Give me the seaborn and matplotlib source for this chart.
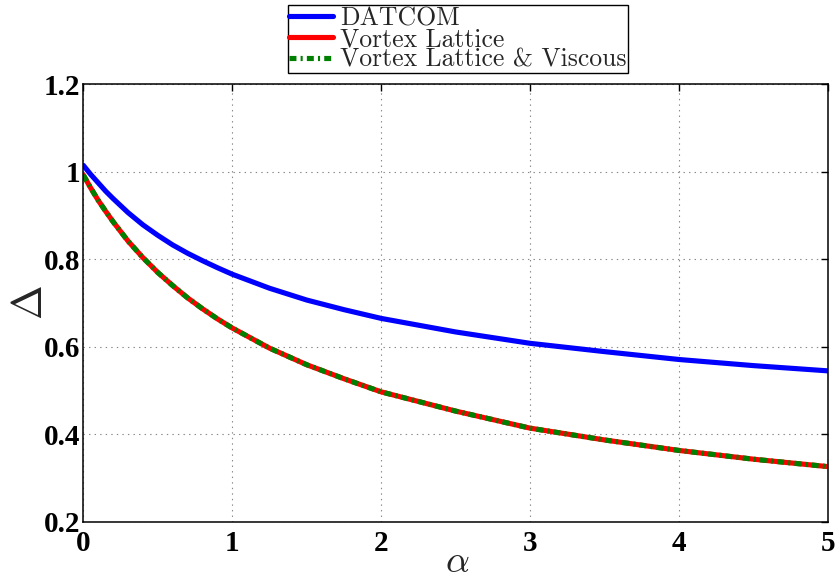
import matplotlib
matplotlib.use("Agg")
import matplotlib.pyplot as plt
import seaborn as sns
import pandas as pd

# ---- data ----
alpha = [0.0, 0.05, 0.1, 0.15, 0.2, 0.3, 0.4, 0.5, 0.6, 0.7, 0.8, 0.9, 1.0, 1.25, 1.5, 1.75,
         2.0, 2.5, 3.0, 3.5, 4.0, 4.5, 5.0]
datcom = [1.015, 0.994, 0.975, 0.956, 0.939, 0.907, 0.879, 0.855, 0.833, 0.814, 0.797, 0.781, 0.766,
          0.734, 0.707, 0.685, 0.665, 0.634, 0.608, 0.589, 0.571, 0.557, 0.545]
vortex = [0.993, 0.963, 0.935, 0.910, 0.886, 0.842, 0.804, 0.770, 0.740, 0.712, 0.687, 0.664, 0.643,
          0.597, 0.559, 0.527, 0.497, 0.453, 0.414, 0.387, 0.363, 0.343, 0.326]
vortex_visc = [0.993, 0.963, 0.935, 0.910, 0.886, 0.842, 0.804, 0.770, 0.740, 0.712, 0.687, 0.664, 0.643,
               0.597, 0.559, 0.527, 0.497, 0.453, 0.414, 0.387, 0.363, 0.343, 0.326]
labels = ["DATCOM", "Vortex Lattice", "Vortex Lattice & Viscous"]
xticks = [0, 1, 2, 3, 4, 5]
xticklabels = ["0", "1", "2", "3", "4", "5"]
yticks = [0.2, 0.4, 0.6, 0.8, 1.0, 1.2]
yticklabels = ["0.2", "0.4", "0.6", "0.8", "1", "1.2"]

sns.set_style("white")
plt.rcParams["mathtext.fontset"] = "cm"
plt.rcParams["lines.scale_dashes"] = False

fig = plt.figure(figsize=(8.35, 5.77), dpi=100)
ax = fig.add_axes([0.0998, 0.0958, 0.8918, 0.7578])

df = pd.DataFrame({"alpha": alpha, "datcom": datcom, "vortex": vortex, "visc": vortex_visc})

sns.lineplot(data=df, x="alpha", y="datcom", ax=ax, color="#0000ff", lw=3.7, label=labels[0])
sns.lineplot(data=df, x="alpha", y="vortex", ax=ax, color="#ff0000", lw=3.7, label=labels[1])
sns.lineplot(data=df, x="alpha", y="visc", ax=ax, color="#008000", lw=3.7, label=labels[2],
             linestyle=(0, (5, 3, 1.5, 3)))

ax.set_xlim(0, 5)
ax.set_ylim(0.2, 1.2)
ax.set_xticks(xticks)
ax.set_xticklabels(xticklabels)
ax.set_yticks(yticks)
ax.set_yticklabels(yticklabels)
for lab in ax.get_xticklabels() + ax.get_yticklabels():
    lab.set_fontfamily("Liberation Serif")
    lab.set_fontweight("bold")
    lab.set_fontsize(21)

ax.tick_params(direction="in", top=True, right=True, length=5, width=1, colors="black")
ax.tick_params(axis="x", pad=6)
ax.tick_params(axis="y", pad=2)
ax.grid(True, linestyle=(0, (1, 3)), color="#888888", lw=0.8)
for sp in ax.spines.values():
    sp.set_color("black")
    sp.set_linewidth(1.1)

ax.set_xlabel(r"$\alpha$", fontsize=27, va="center")
ax.xaxis.set_label_coords(0.502, -0.092)
ax.set_ylabel(r"$\Delta$", fontsize=30)
ax.yaxis.set_label_coords(-0.044, 0.5)

leg = ax.legend(loc="lower center", bbox_to_anchor=(458 / 835, 1 - 73 / 577),
                bbox_transform=fig.transFigure, borderaxespad=0,
                prop={"family": "cmr10", "size": 18.5}, frameon=True, fancybox=False,
                edgecolor="black", framealpha=1, borderpad=0.05, labelspacing=-0.12,
                handlelength=1.7, handletextpad=0.3)
leg.get_frame().set_linewidth(1.0)

fig.savefig("out.png", dpi=100)
